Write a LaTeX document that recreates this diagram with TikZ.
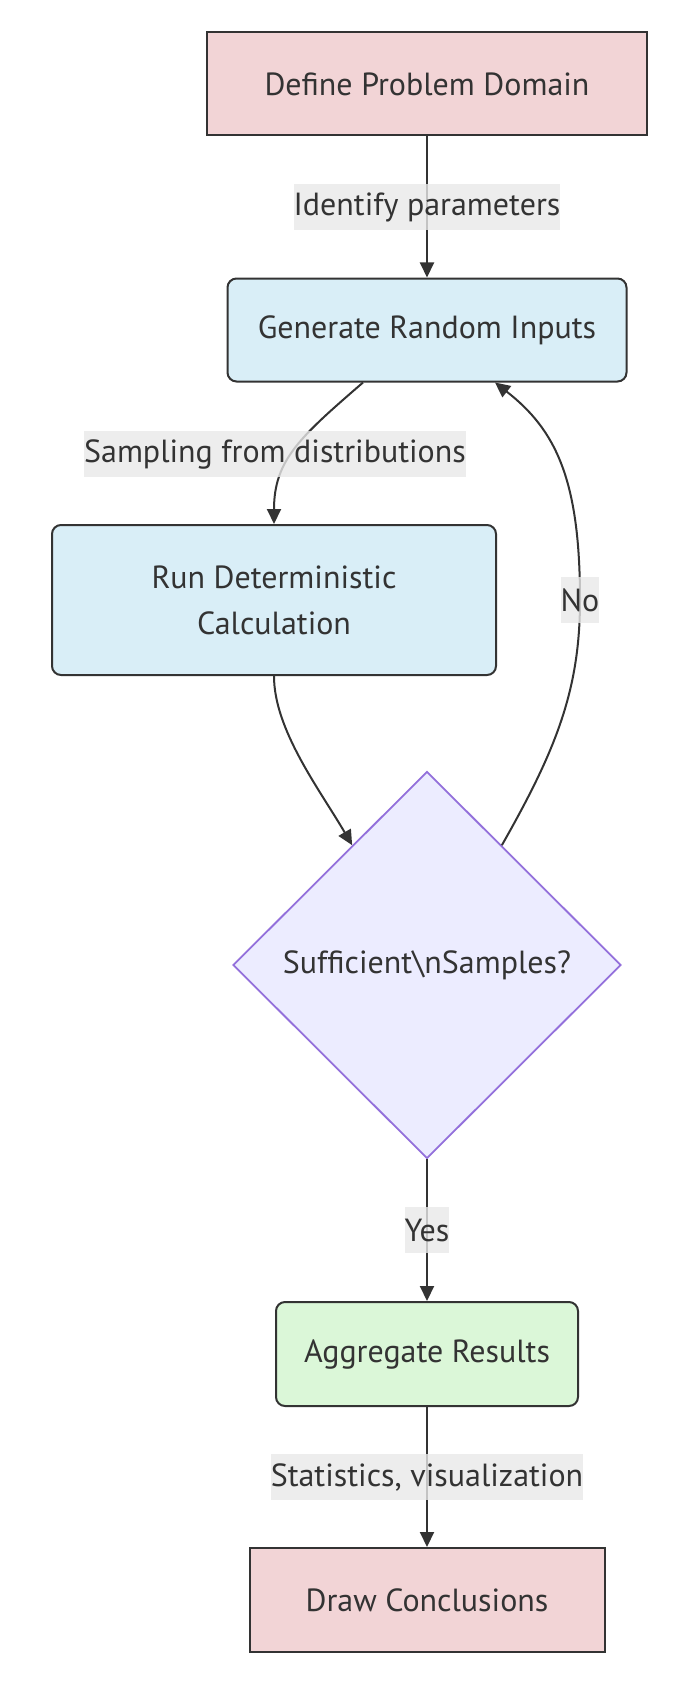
\documentclass[tikz,border=0pt]{standalone}
\usepackage{fontspec}
\setmainfont{PT Sans}
\usetikzlibrary{shapes.geometric,arrows.meta}
\definecolor{pinkfill}{HTML}{F2D4D6}
\definecolor{bluefill}{HTML}{D9EEF7}
\definecolor{greenfill}{HTML}{DBF7D8}
\definecolor{decfill}{HTML}{ECECFF}
\definecolor{decline}{HTML}{9370DB}
\definecolor{ink}{HTML}{333333}
\definecolor{lblbg}{HTML}{E8E8E8}

\begin{document}
\begin{tikzpicture}[x=1pt,y=-1pt]
\tikzstyle{every node}=[font=\fontsize{32}{46}\selectfont, text=ink]
\tikzstyle{sharpbox}=[draw=ink, line width=2pt, fill=pinkfill, minimum height=103pt, inner sep=0pt]
\tikzstyle{softbox}=[draw=ink, line width=2pt, fill=bluefill, rounded corners=9pt, minimum height=103pt, inner sep=0pt, align=center]
\tikzstyle{decision}=[diamond, draw=decline, line width=1.8pt, fill=decfill, minimum width=388pt, minimum height=387pt, inner sep=0pt]
\tikzstyle{flow}=[draw=ink, line width=2pt, -{Triangle[length=15pt,width=14pt]}]
\tikzstyle{lbl}=[fill=lblbg, fill opacity=0.8, text opacity=1, inner xsep=0pt, inner ysep=0pt, minimum height=46pt]
\useasboundingbox (0,0) rectangle (672,1696);
\node[sharpbox, minimum width=440pt] (dom) at (427,84) {Define Problem Domain};
\node[softbox, minimum width=399pt] (gen) at (427,330) {Generate Random Inputs};
\node[softbox, minimum width=444pt, minimum height=150pt] (run) at (274,600) {Run Deterministic\\Calculation};
\node[decision] (chk) at (427,965) {Sufficient\textbackslash{}nSamples?};
\node[softbox, fill=greenfill, minimum width=302pt, minimum height=104pt] (agg) at (427,1354) {Aggregate Results};
\node[sharpbox, minimum width=355pt, minimum height=104pt] (concl) at (427,1600) {Draw Conclusions};
\draw[flow] (dom.south) -- (gen.north);
\draw[flow] ([xshift=-64pt]gen.south) .. controls (300,437) and (274,460) .. (run.north);
\draw[flow] (run.south) .. controls (274,730) and (320,790) .. (chk.122);
\draw[flow] (chk.58) .. controls (556,750) and (580,690) .. (580,600) .. controls (580,480) and (556,430) .. ([xshift=68pt]gen.south);
\draw[flow] (chk.south) -- (agg.north);
\draw[flow] (agg.south) -- (concl.north);
\node[lbl] (idp) at (427,207) {Identify parameters};
\node[lbl] (smp) at (275,454) {Sampling from distributions};
\node[lbl] (no) at (580,600) {No};
\node[lbl] (yes) at (427,1230) {Yes};
\node[lbl] (stv) at (427,1477) {Statistics, visualization};
\end{tikzpicture}
\end{document}
